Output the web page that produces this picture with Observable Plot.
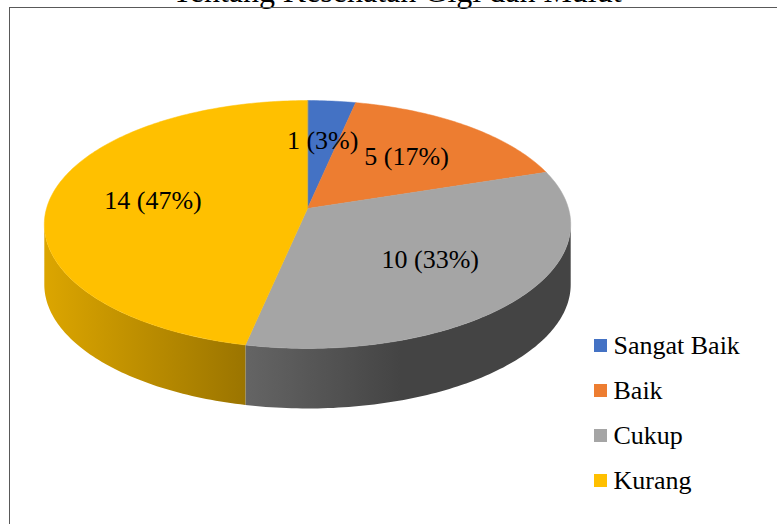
<!DOCTYPE html>
<html><head><meta charset="utf-8">
<script src="https://cdn.jsdelivr.net/npm/d3@7"></script>
<script src="https://cdn.jsdelivr.net/npm/@observablehq/plot@0.6"></script>
<style>
html,body{margin:0;padding:0;background:#fff;overflow:hidden;}
#wrap{position:relative;width:777px;height:524px;overflow:hidden;}
#frame{position:absolute;left:9px;top:7px;width:820px;height:600px;border:1.4px solid #595959;box-sizing:border-box;pointer-events:none;}
#legend{position:absolute;left:580px;top:320px;}
svg text{font-family:"Liberation Serif","Times New Roman","DejaVu Serif",serif !important;}
</style></head><body><div id="wrap"><div id="main"></div><div id="legend"></div><div id="frame"></div></div>
<script>
// ---- data ----
const title = "Tentang Kesehatan Gigi dan Mulut";
const categories = ["Sangat Baik", "Baik", "Cukup", "Kurang"];
const values = [1, 5, 10, 14];
const colors = ["#4472C4", "#ED7D31", "#A5A5A5", "#FFC000"];

// ---- 3D pie geometry (perspective tilt, depth, label radius) ----
const K = 0.129, RY = 0.467, DEPTH = 0.23, LABEL_R = 0.6;
const SHADE_X = [-1, 0.356], SHADE = [0.86, 0.41];
function proj(theta, r, z) {
  const u = r * Math.sin(theta), v = r * Math.cos(theta), w = 1 + K * v;
  return {x: u / w, y: -RY * v / w + z * DEPTH};
}
const total = d3.sum(values);
let acc = 0;
const slices = categories.map((c, i) => {
  const a0 = acc / total * 2 * Math.PI; acc += values[i];
  const a1 = acc / total * 2 * Math.PI;
  return {cat: c, i, value: values[i], a0, a1, pct: values[i] / total * 100};
});
function arcPts(a0, a1, r, z) {
  const n = Math.max(2, Math.ceil((a1 - a0) / (Math.PI / 180)));
  return d3.range(n + 1).map(j => proj(a0 + (a1 - a0) * j / n, r, z));
}
const topPts = slices.flatMap(s => [proj(0, 0, 0), ...arcPts(s.a0, s.a1, 1, 0)].map(p => ({...p, cat: s.cat})));
const sMin = Math.acos(-K), sMax = 2 * Math.PI - Math.acos(-K);
const sides = slices.map(s => {
  const a0 = Math.max(s.a0, sMin), a1 = Math.min(s.a1, sMax);
  return a1 > a0 ? {cat: s.cat, i: s.i, pts: [...arcPts(a0, a1, 1, 0), ...arcPts(a0, a1, 1, 1).reverse()]} : null;
}).filter(Boolean);

const font = "Liberation Serif";
const plot = Plot.plot({
  width: 777, height: 524,
  margin: 0,
  x: {domain: [-1, 1], range: [46, 568], axis: null},
  y: {domain: [-1, 1], range: [-53, 469], axis: null},
  color: {domain: categories, range: colors},
  marks: [
    Plot.text([title], {frameAnchor: "top", lineAnchor: "bottom", dx: 8, dy: 1.5, text: d => d, fontSize: 32, fontFamily: font, fill: "black"}),
    ...sides.map(s => Plot.line(s.pts, {x: "x", y: "y", fill: `url(#side-${s.i})`, stroke: "none", curve: "linear-closed"})),
    Plot.line(topPts, {x: "x", y: "y", z: "cat", fill: "cat", stroke: "cat", strokeWidth: 0.5, curve: "linear-closed"}),
    Plot.text(slices, {
      x: s => proj((s.a0 + s.a1) / 2, LABEL_R, 0).x,
      y: s => proj((s.a0 + s.a1) / 2, LABEL_R, 0).y,
      text: s => `${s.value} (${Math.round(s.pct)}%)`,
      fontSize: 26, fontFamily: font, fill: "black"
    })
  ]
});
// gradient definitions for the side walls
const xs = plot.scale("x");
const defs = d3.select(plot).insert("defs", ":first-child");
sides.forEach(s => {
  const base = d3.rgb(colors[s.i]);
  const g = defs.append("linearGradient").attr("id", `side-${s.i}`)
    .attr("gradientUnits", "userSpaceOnUse")
    .attr("x1", xs.apply(SHADE_X[0])).attr("x2", xs.apply(SHADE_X[1])).attr("y1", 0).attr("y2", 0);
  SHADE.forEach((f, j) => g.append("stop").attr("offset", j / (SHADE.length - 1))
    .attr("stop-color", d3.rgb(base.r * f, base.g * f, base.b * f).formatHex()));
});
document.getElementById("main").append(plot);

const legend = Plot.plot({
  width: 190, height: 190, margin: 0,
  y: {type: "point", domain: categories, range: [24, 160], padding: 0, axis: null},
  color: {domain: categories, range: colors},
  marks: [
    Plot.dot(categories, {y: d => d, frameAnchor: "left", dx: 20, symbol: "square", r: 7.33, fill: d => d, stroke: "none"}),
    Plot.text(categories, {y: d => d, frameAnchor: "left", dx: 33, textAnchor: "start", text: d => d, fontSize: 26, fontFamily: font, fill: "black"})
  ]
});
document.getElementById("legend").append(legend);
</script></body></html>
